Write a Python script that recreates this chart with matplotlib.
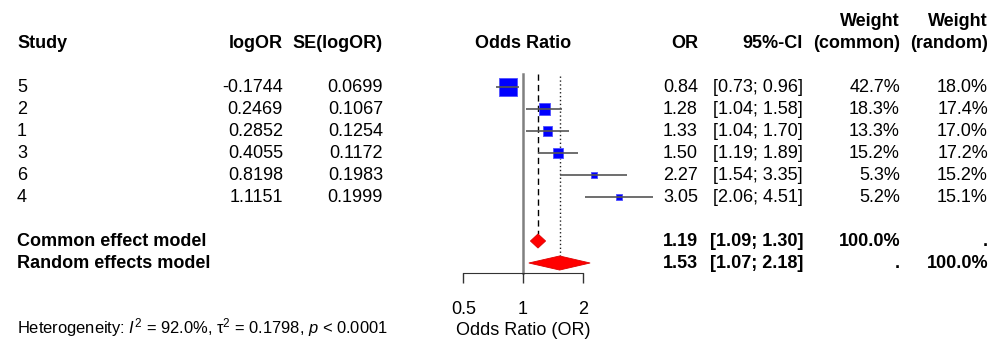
import numpy as np
import matplotlib
matplotlib.use("Agg")
import matplotlib.pyplot as plt
import matplotlib.transforms as mtransforms
from matplotlib.patches import Polygon

plt.rcParams['font.family'] = ['Liberation Sans', 'DejaVu Sans']
plt.rcParams['mathtext.fontset'] = 'custom'
plt.rcParams['mathtext.rm'] = 'Liberation Sans'
plt.rcParams['mathtext.it'] = 'Liberation Sans:italic'

# data
studies = ['5', '2', '1', '3', '6', '4']
log_or = [-0.1744, 0.2469, 0.2852, 0.4055, 0.8198, 1.1151]
se_log_or = [0.0699, 0.1067, 0.1254, 0.1172, 0.1983, 0.1999]
odds = [0.84, 1.28, 1.33, 1.50, 2.27, 3.05]
ci_low = [0.73, 1.04, 1.04, 1.19, 1.54, 2.06]
ci_high = [0.96, 1.58, 1.70, 1.89, 3.35, 4.51]
w_common = [42.7, 18.3, 13.3, 15.2, 5.3, 5.2]
w_random = [18.0, 17.4, 17.0, 17.2, 15.2, 15.1]

models = ['Common effect model', 'Random effects model']
model_or = [1.19, 1.53]
model_low = [1.09, 1.07]
model_high = [1.30, 2.18]
model_wc = ['100.0%', '.']
model_wr = ['.', '100.0%']

het_text = r"Heterogeneity: $I^2$ = 92.0%, τ$^2$ = 0.1798, $p$ < 0.0001"

# layout (pixels of a 1000 x 359 figure)
W, H = 1000, 359
row_px0, row_step = 87, 22          # pixel centre of row 1 and row spacing
x1_px, px_per_dbl = 523, 59.7       # pixel of OR = 1 and pixels per doubling
ax_left, ax_right = 440, 660

fig = plt.figure(figsize=(W / 100, H / 100), dpi=100)
ax = fig.add_axes([ax_left / W, 0, (ax_right - ax_left) / W, 1])
ax.patch.set_alpha(0)
ax.set_xscale('log')
ax.set_xlim(2 ** ((ax_left - x1_px) / px_per_dbl), 2 ** ((ax_right - x1_px) / px_per_dbl))
ax.set_ylim(1 + (H - row_px0) / row_step, 1 - row_px0 / row_step)

for s in ['top', 'left', 'right']:
    ax.spines[s].set_visible(False)
axis_row = 9.44
ax.spines['bottom'].set_position(('data', axis_row))
ax.spines['bottom'].set_bounds(0.5, 2)
ax.spines['bottom'].set_color('#333333')
ax.set_yticks([])
ax.set_xticks([0.5, 1, 2])
ax.set_xticklabels(['0.5', '1', '2'])
ax.xaxis.set_minor_locator(matplotlib.ticker.NullLocator())
ax.tick_params(axis='x', direction='out', length=7.2, width=1, color='#333333',
               pad=13.5, labelsize=13)

rows = np.arange(1, len(studies) + 1)
model_rows = [len(studies) + 2, len(studies) + 3]
dh = 0.32

# reference lines
ax.plot([1, 1], [0.4, axis_row], color='#808080', lw=1.8, zorder=1)
ax.plot([model_or[0]] * 2, [0.4, model_rows[0] - dh], color='black', lw=1,
        ls=(0, (4.5, 3)), zorder=1)
ax.plot([model_or[1]] * 2, [0.5, model_rows[1] - dh], color='#222222', lw=1,
        ls=(0, (1, 1.8)), zorder=1)

# squares and CIs
side_px = 17.3 * np.sqrt(np.array(w_common) / max(w_common))
ax.scatter(odds, rows, marker='s', s=(side_px * 0.72) ** 2, color='#0000ff',
           edgecolor='#5050ff', linewidth=0.6, zorder=3)
ax.hlines(rows, ci_low, ci_high, color='#555555', lw=1.2, zorder=4)

# diamonds
for r, est, lo, hi in zip(model_rows, model_or, model_low, model_high):
    ax.add_patch(Polygon([[lo, r], [est, r - dh], [hi, r], [est, r + dh]],
                         closed=True, facecolor='#ff0000', edgecolor='#dd0000',
                         lw=0.6, zorder=3))

# text columns
tr = mtransforms.blended_transform_factory(fig.transFigure, ax.transData)
fs = 13
cols = {'study': 17, 'logor': 283, 'se': 383, 'or': 698, 'ci': 803,
        'wc': 900, 'wr': 988}


def put(col, row, txt, bold=False, ha='right', size=fs):
    ax.text(cols[col] / W, row, txt, transform=tr, ha=ha, va='center',
            fontsize=size, fontweight='bold' if bold else 'normal')


hdr = -1
put('study', hdr, 'Study', True, 'left')
put('logor', hdr, 'logOR', True)
put('se', hdr, 'SE(logOR)', True)
put('or', hdr, 'OR', True)
put('ci', hdr, '95%-CI', True)
put('wc', hdr - 1, 'Weight', True)
put('wc', hdr, '(common)', True)
put('wr', hdr - 1, 'Weight', True)
put('wr', hdr, '(random)', True)
ax.text(1, hdr, 'Odds Ratio', ha='center', va='center', fontsize=fs, fontweight='bold')

for i, r in enumerate(rows):
    put('study', r, studies[i], ha='left')
    put('logor', r, f'{log_or[i]:.4f}')
    put('se', r, f'{se_log_or[i]:.4f}')
    put('or', r, f'{odds[i]:.2f}')
    put('ci', r, f'[{ci_low[i]:.2f}; {ci_high[i]:.2f}]')
    put('wc', r, f'{w_common[i]:.1f}%')
    put('wr', r, f'{w_random[i]:.1f}%')

for i, r in enumerate(model_rows):
    put('study', r, models[i], True, 'left')
    put('or', r, f'{model_or[i]:.2f}', True)
    put('ci', r, f'[{model_low[i]:.2f}; {model_high[i]:.2f}]', True)
    put('wc', r, model_wc[i], True)
    put('wr', r, model_wr[i], True)

ax.text(1, 12.05, 'Odds Ratio (OR)', ha='center', va='center', fontsize=fs)
put('study', 11.95, het_text, ha='left', size=11.9)

fig.savefig('out.png', dpi=100)
